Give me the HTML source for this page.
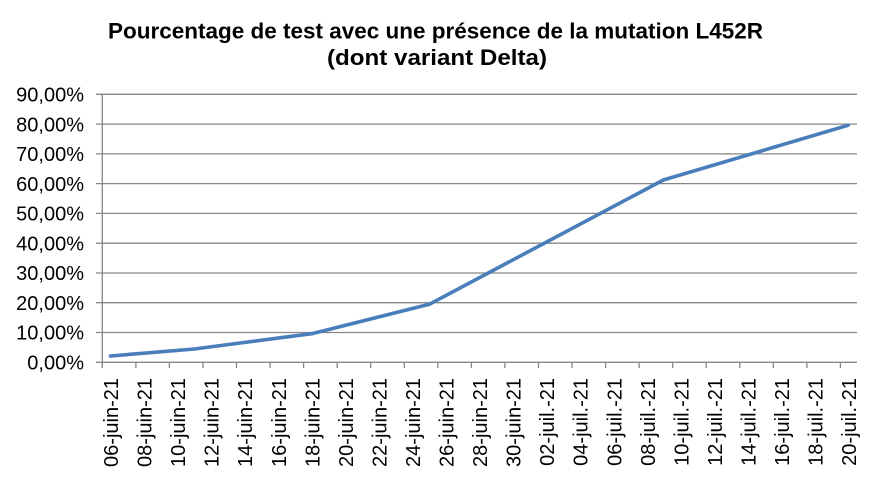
<!DOCTYPE html>
<html><head><meta charset="utf-8"><style>
html,body{margin:0;padding:0;background:#fff;}
svg{display:block;font-family:"Liberation Sans",Arial,sans-serif;}
</style></head><body>
<svg width="880" height="481" viewBox="0 0 880 481" xmlns="http://www.w3.org/2000/svg">
<rect width="880" height="481" fill="#fff"/>
<text x="108" y="38.5" font-size="22" font-weight="bold" fill="#000" textLength="655" lengthAdjust="spacingAndGlyphs">Pourcentage de test avec une présence de la mutation L452R</text>
<text x="327" y="65" font-size="22" font-weight="bold" fill="#000" textLength="220" lengthAdjust="spacingAndGlyphs">(dont variant Delta)</text>
<g stroke="#868686" stroke-width="1.3" fill="none">
<line x1="96" y1="94.3" x2="857" y2="94.3"/>
<line x1="96" y1="124.1" x2="857" y2="124.1"/>
<line x1="96" y1="153.9" x2="857" y2="153.9"/>
<line x1="96" y1="183.6" x2="857" y2="183.6"/>
<line x1="96" y1="213.4" x2="857" y2="213.4"/>
<line x1="96" y1="243.2" x2="857" y2="243.2"/>
<line x1="96" y1="273" x2="857" y2="273"/>
<line x1="96" y1="302.7" x2="857" y2="302.7"/>
<line x1="96" y1="332.5" x2="857" y2="332.5"/>
<line x1="96" y1="362.3" x2="857" y2="362.3"/>
<line x1="102.3" y1="94.3" x2="102.3" y2="368"/>
<line x1="135.9" y1="362.3" x2="135.9" y2="368"/>
<line x1="169.4" y1="362.3" x2="169.4" y2="368"/>
<line x1="203" y1="362.3" x2="203" y2="368"/>
<line x1="236.5" y1="362.3" x2="236.5" y2="368"/>
<line x1="270.1" y1="362.3" x2="270.1" y2="368"/>
<line x1="303.6" y1="362.3" x2="303.6" y2="368"/>
<line x1="337.2" y1="362.3" x2="337.2" y2="368"/>
<line x1="370.7" y1="362.3" x2="370.7" y2="368"/>
<line x1="404.3" y1="362.3" x2="404.3" y2="368"/>
<line x1="437.8" y1="362.3" x2="437.8" y2="368"/>
<line x1="471.4" y1="362.3" x2="471.4" y2="368"/>
<line x1="504.9" y1="362.3" x2="504.9" y2="368"/>
<line x1="538.5" y1="362.3" x2="538.5" y2="368"/>
<line x1="572" y1="362.3" x2="572" y2="368"/>
<line x1="605.6" y1="362.3" x2="605.6" y2="368"/>
<line x1="639.1" y1="362.3" x2="639.1" y2="368"/>
<line x1="672.7" y1="362.3" x2="672.7" y2="368"/>
<line x1="706.2" y1="362.3" x2="706.2" y2="368"/>
<line x1="739.8" y1="362.3" x2="739.8" y2="368"/>
<line x1="773.3" y1="362.3" x2="773.3" y2="368"/>
<line x1="806.9" y1="362.3" x2="806.9" y2="368"/>
<line x1="840.4" y1="362.3" x2="840.4" y2="368"/>
</g>
<g font-size="20" fill="#000" text-anchor="end">
<text x="84" y="101.5">90,00%</text>
<text x="84" y="131.3">80,00%</text>
<text x="84" y="161.1">70,00%</text>
<text x="84" y="190.8">60,00%</text>
<text x="84" y="220.6">50,00%</text>
<text x="84" y="250.4">40,00%</text>
<text x="84" y="280.2">30,00%</text>
<text x="84" y="309.9">20,00%</text>
<text x="84" y="339.7">10,00%</text>
<text x="84" y="369.5">0,00%</text>
</g>
<g font-size="20" fill="#000" text-anchor="end">
<text transform="translate(118,378) rotate(-90)">06-juin-21</text>
<text transform="translate(151.6,378) rotate(-90)">08-juin-21</text>
<text transform="translate(185.1,378) rotate(-90)">10-juin-21</text>
<text transform="translate(218.7,378) rotate(-90)">12-juin-21</text>
<text transform="translate(252.2,378) rotate(-90)">14-juin-21</text>
<text transform="translate(285.8,378) rotate(-90)">16-juin-21</text>
<text transform="translate(319.3,378) rotate(-90)">18-juin-21</text>
<text transform="translate(352.9,378) rotate(-90)">20-juin-21</text>
<text transform="translate(386.4,378) rotate(-90)">22-juin-21</text>
<text transform="translate(420,378) rotate(-90)">24-juin-21</text>
<text transform="translate(453.5,378) rotate(-90)">26-juin-21</text>
<text transform="translate(487.1,378) rotate(-90)">28-juin-21</text>
<text transform="translate(520.6,378) rotate(-90)">30-juin-21</text>
<text transform="translate(554.2,378) rotate(-90)">02-juil.-21</text>
<text transform="translate(587.7,378) rotate(-90)">04-juil.-21</text>
<text transform="translate(621.3,378) rotate(-90)">06-juil.-21</text>
<text transform="translate(654.8,378) rotate(-90)">08-juil.-21</text>
<text transform="translate(688.4,378) rotate(-90)">10-juil.-21</text>
<text transform="translate(721.9,378) rotate(-90)">12-juil.-21</text>
<text transform="translate(755.5,378) rotate(-90)">14-juil.-21</text>
<text transform="translate(789,378) rotate(-90)">16-juil.-21</text>
<text transform="translate(822.6,378) rotate(-90)">18-juil.-21</text>
<text transform="translate(856.1,378) rotate(-90)">20-juil.-21</text>
</g>
<polyline points="110.4,356 194.3,349 311.8,333.7 429.3,304.3 663.3,180 848.3,125.2" fill="none" stroke="#4a7ebb" stroke-width="3.6" stroke-linejoin="round" stroke-linecap="round"/>
</svg>
</body></html>
